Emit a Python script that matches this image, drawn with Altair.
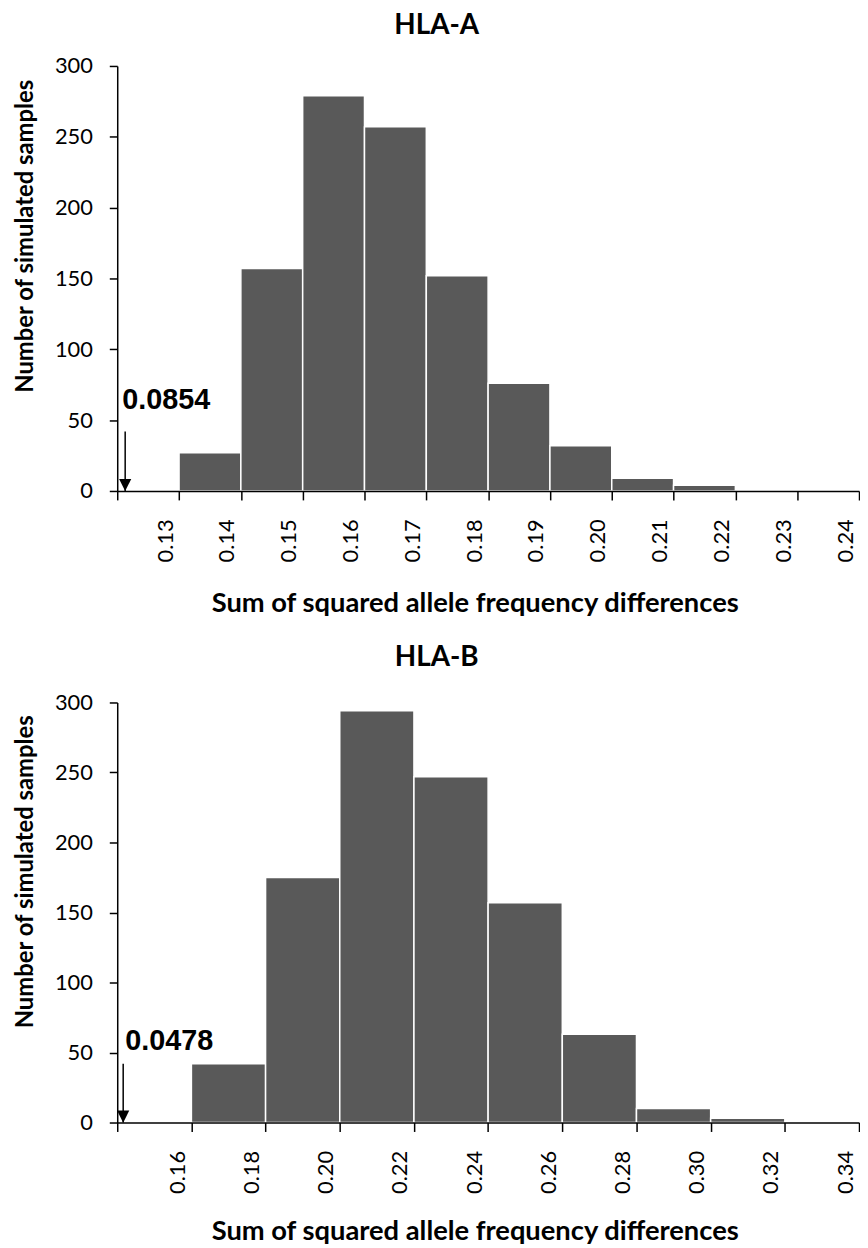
import altair as alt
import pandas as pd

# ---- data ----
a_bins = [0.13, 0.14, 0.15, 0.16, 0.17, 0.18, 0.19, 0.20, 0.21, 0.22, 0.23, 0.24]
a_counts = [0, 27, 157, 279, 257, 152, 76, 32, 9, 4, 0, 0]
a_step = 0.01
a_observed = 0.0854

b_bins = [0.16, 0.18, 0.20, 0.22, 0.24, 0.26, 0.28, 0.30, 0.32, 0.34]
b_counts = [0, 42, 175, 294, 247, 157, 63, 10, 3, 0]
b_step = 0.02
b_observed = 0.0478

y_ticks = [0, 50, 100, 150, 200, 250, 300]

FONT = "Lato"
BAR = "#595959"
XTITLE = "Sum of squared allele frequency differences"
YTITLE = "Number of simulated samples"


def panel(name, bins, counts, step, observed, arrow_top, label_y, label_dx,
          arrow_dx, height, title_y, x_title_pad, title_offset):
    lower = [round(b - step, 4) for b in bins]
    df = pd.DataFrame({"lo": lower, "hi": bins, "n": counts, "zero": 0})
    edges = [lower[0]] + list(bins)
    thresh = lower[0] + step / 2
    xscale = alt.Scale(domain=[lower[0], bins[-1]], nice=False, zero=False, clamp=True)
    yscale = alt.Scale(domain=[0, 300], nice=False, zero=True)

    xaxis = alt.Axis(
        values=edges,
        labelExpr=f"datum.value < {thresh} ? '' : format(datum.value, '.2f')",
        labelAngle=270, labelAlign="right", labelBaseline="middle",
        labelOffset=-14, labelFontSize=22, labelPadding=19,
        tickSize=9, tickWidth=1.5, domainWidth=1.5,
        titleFontSize=27.5, titleFontWeight="bold", titlePadding=x_title_pad,
        titleX=360, zindex=1,
    )
    yaxis = alt.Axis(
        values=y_ticks, labelFontSize=22, labelPadding=17,
        tickSize=8, tickWidth=1.5, domainWidth=1.5,
        titleFontSize=24, titleFontWeight="bold", titlePadding=17,
        titleY=title_y, zindex=1,
    )

    bars = alt.Chart(df).transform_filter("datum.n > 0").mark_bar(
        color=BAR, stroke="white", strokeWidth=1.5
    ).encode(
        x=alt.X("lo:Q", scale=xscale, axis=xaxis, title=XTITLE),
        x2="hi:Q",
        y=alt.Y("n:Q", scale=yscale, axis=yaxis, title=YTITLE),
        y2="zero:Q",
    )

    ann = pd.DataFrame({
        "obs": [observed], "top": [arrow_top], "base": [0],
        "ly": [label_y], "label": [f"{observed:.4f}"],
    })
    base = alt.Chart(ann)
    rule = base.mark_rule(color="black", strokeWidth=1.5, xOffset=arrow_dx).encode(
        x=alt.X("obs:Q", axis=xaxis, title=XTITLE),
        y=alt.Y("top:Q", axis=yaxis, title=YTITLE),
        y2="base:Q",
    )
    head = base.mark_point(
        shape="M-1,-1L1,-1L0,1Z", filled=True, color="black", opacity=1,
        size=150, xOffset=arrow_dx, yOffset=-6,
    ).encode(
        x=alt.X("obs:Q", axis=xaxis, title=XTITLE),
        y=alt.Y("base:Q", axis=yaxis, title=YTITLE),
    )
    text = base.mark_text(
        font="Liberation Sans", fontWeight="bold", fontSize=29, color="black",
        align="left", baseline="alphabetic", xOffset=label_dx,
    ).encode(
        x=alt.X("obs:Q", axis=xaxis, title=XTITLE),
        y=alt.Y("ly:Q", axis=yaxis, title=YTITLE),
        text="label:N",
    )

    return alt.layer(bars, rule, head, text).properties(
        width=747, height=height,
        title=alt.TitleParams(name, fontSize=28, font=FONT, fontWeight="bold",
                              anchor="middle", frame="bounds", offset=title_offset),
    )


top = panel("HLA-A", a_bins, a_counts, a_step, a_observed,
            arrow_top=42, label_y=58, label_dx=5, arrow_dx=8, height=428,
            title_y=171, x_title_pad=28, title_offset=15)
bottom = panel("HLA-B", b_bins, b_counts, b_step, b_observed,
               arrow_top=42, label_y=52, label_dx=8, arrow_dx=6, height=423,
               title_y=170, x_title_pad=24, title_offset=19.5)

chart = alt.vconcat(top, bottom, spacing=27).properties(
    padding={"left": 5, "top": 0, "right": 0, "bottom": 0}
).configure_view(stroke=None).configure_axis(
    grid=False, domainColor="black", tickColor="black", labelColor="black",
    titleColor="black", labelFont=FONT, titleFont=FONT,
).configure_title(color="black")

chart.save("out.html", embed_options={"renderer": "svg", "actions": False})
